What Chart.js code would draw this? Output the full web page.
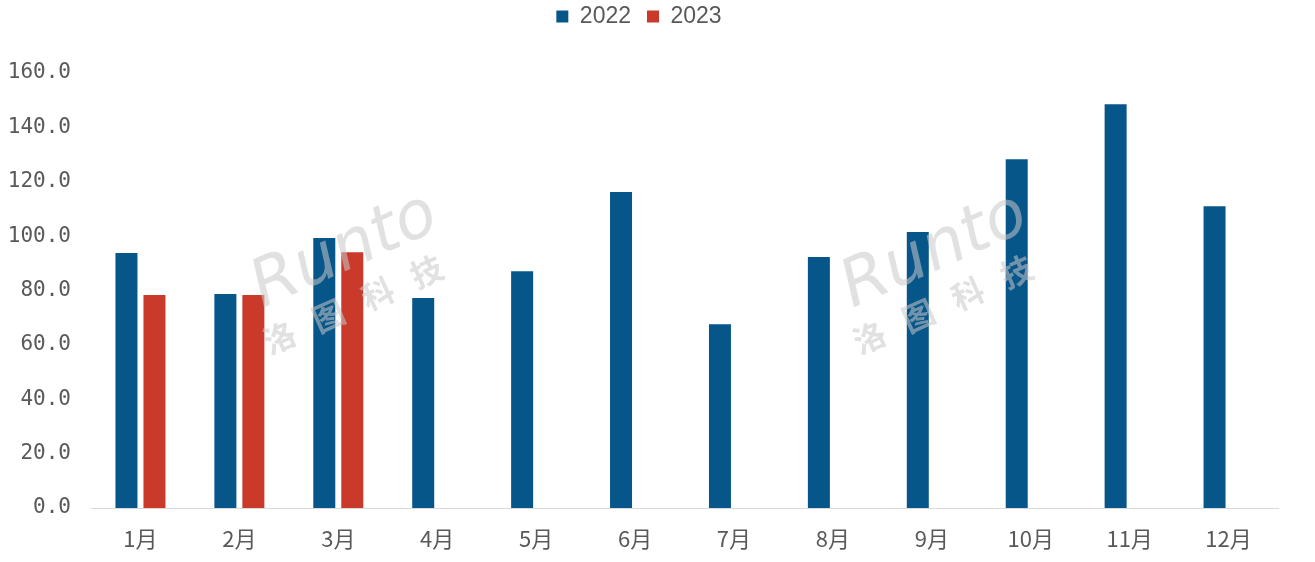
<!DOCTYPE html>
<html>
<head>
<meta charset="utf-8">
<script src="https://cdn.jsdelivr.net/npm/chart.js@4/dist/chart.umd.min.js"></script>
<style>
  html, body { margin: 0; padding: 0; background: #ffffff; }
  #wrap { width: 1315px; height: 562px; position: relative; }
</style>
</head>
<body>
<div id="wrap"><canvas id="salesChart"></canvas></div>
<script>
const MONTHS = ["1月", "2月", "3月", "4月", "5月", "6月", "7月", "8月", "9月", "10月", "11月", "12月"];
const SERIES_2022 = [93.8, 78.7, 99.3, 77.2, 87.1, 116.2, 67.6, 92.3, 101.5, 128.3, 148.5, 111.0];
const SERIES_2023 = [78.3, 78.3, 94.1];
const Y_TICKS = [0, 20, 40, 60, 80, 100, 120, 140, 160];

const BLUE = "#07568a";
const RED = "#c93a2a";
const TEXT_GREY = "#595959";

// faint "Runto 洛图科技" watermark drawn over the bars
const watermark = {
  id: "watermark",
  afterDatasetsDraw(chart) {
    const ctx = chart.ctx;
    const spots = [[352, 268], [942, 268]];
    spots.forEach(([cx, cy]) => {
      ctx.save();
      ctx.translate(cx, cy);
      ctx.rotate(-0.42);
      ctx.globalAlpha = 0.55;
      ctx.fillStyle = "#c8c8c8";
      ctx.font = "italic 66px 'DejaVu Sans'";
      ctx.textAlign = "center";
      ctx.textBaseline = "alphabetic";
      ctx.fillText("Runto", 0, 0);
      ctx.font = "bold 32px 'Noto Sans CJK SC'";
      ctx.fillText("洛   图   科   技", -14, 46);
      ctx.restore();
    });
  }
};

// legend box pinned so the plot area starts at the 160 line
const legendHeight = {
  id: "legendHeight",
  beforeInit(chart) {
    const fit = chart.legend.fit;
    chart.legend.fit = function fitLegend() {
      fit.bind(chart.legend)();
      this.height = 84;
    };
  }
};

function renderChart() {
  const ctx = document.getElementById("salesChart");

  new Chart(ctx, {
    type: "bar",
    data: {
      labels: MONTHS,
      datasets: [
        {
          label: "2022",
          data: SERIES_2022,
          backgroundColor: BLUE,
          categoryPercentage: 0.566,
          barPercentage: 0.786
        },
        {
          label: "2023",
          data: SERIES_2023,
          backgroundColor: RED,
          categoryPercentage: 0.566,
          barPercentage: 0.786
        }
      ]
    },
    options: {
      responsive: true,
      maintainAspectRatio: false,
      animation: false,
      layout: { padding: { left: 0, right: 37, top: -11, bottom: 0 } },
      plugins: {
        legend: {
          display: true,
          position: "top",
          labels: {
            boxWidth: 12,
            boxHeight: 12,
            padding: 16,
            color: TEXT_GREY,
            font: { family: "'Liberation Sans', Arial, sans-serif", size: 23 }
          }
        },
        tooltip: { enabled: false }
      },
      scales: {
        x: {
          grid: { display: false, drawTicks: false },
          border: { display: true, color: "#d9d9d9", width: 1 },
          ticks: {
            color: TEXT_GREY,
            padding: 17,
            font: { family: "'Noto Sans CJK SC', sans-serif", size: 22 }
          },
          afterFit(scale) { scale.height = 54; }
        },
        y: {
          min: 0,
          max: 160,
          grid: { display: false, drawTicks: false },
          border: { display: false },
          afterBuildTicks(scale) {
            scale.ticks = Y_TICKS.map((v) => ({ value: v }));
          },
          ticks: {
            color: TEXT_GREY,
            padding: 20,
            font: { family: "'DejaVu Sans Mono', monospace", size: 21 },
            callback: (value) => Number(value).toFixed(1)
          },
          afterFit(scale) { scale.width = 91; }
        }
      }
    },
    plugins: [legendHeight, watermark]
  });
}

renderChart();
</script>
</body>
</html>
